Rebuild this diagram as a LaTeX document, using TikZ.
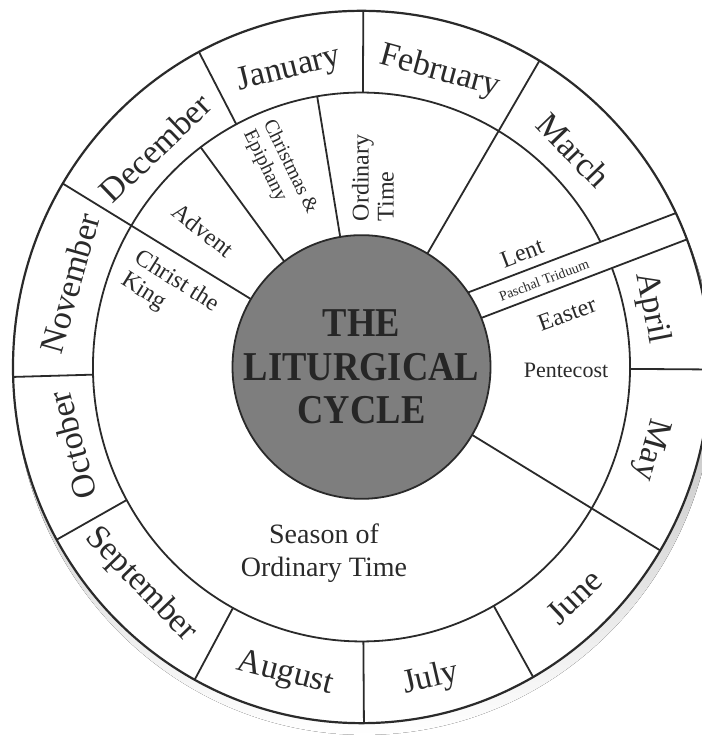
\documentclass[tikz,border=0pt]{standalone}
\usepackage{fontspec}
\setmainfont{Liberation Serif}
\newfontfamily\titlefont{Liberation Serif}[FakeStretch=0.89]
\definecolor{ink}{HTML}{2A2A2A}
\definecolor{hub}{HTML}{7E7E7E}
\definecolor{shade}{HTML}{707070}
\begin{document}
\begin{tikzpicture}[x=1pt,y=1pt,
  wheel/.style={draw=ink, line width=1.8pt},
  month/.style={text=ink, font=\fontsize{34}{38}\selectfont, inner sep=0pt},
  season/.style={text=ink, font=\fontsize{24}{26}\selectfont, inner sep=0pt},
]
\useasboundingbox (0,0) rectangle (701,738);
\fill[white] (0,0) rectangle (701,738);
\begin{scope}[shift={(361.5,371)}, yscale=1.022]
  % shadow and rings
  \fill[shade] (3,-10) circle (350);
  \draw[wheel, fill=white, line width=2.2pt] (0,0) circle (348.5);
  \draw[wheel] (27.13:268.5) arc[start angle=27.13, end angle=381.14, radius=268.5];
  % month dividers (outer ring only)
  \foreach \a in {89.7,117.8,181.6,209,241.4,270.4,299.5,359.6}
    \draw[wheel] (\a:268.5) -- (\a:348.5);
  % season dividers (inner ring only)
  \foreach \a in {126.8,99.5}
    \draw[wheel] (\a:129) -- (\a:268.5);
  % dividers through both rings
  \foreach \a in {149,59.3,329}
    \draw[wheel] (\a:129) -- (\a:348.5);
  % Paschal Triduum band
  \draw[wheel] (34.4:129) -- (25.6:348.5);
  \draw[wheel] (21.83:129) -- (20.99:348.5);
  % hub
  \draw[wheel, fill=hub] (0,0) circle (129);
  % months
  \foreach \n/\a/\r/\rot in {January/104/299.5/14, February/74.8/299/-15.2,
      March/45/300/-46, April/11.2/296/-79, May/344.3/299.7/-105.7,
      June/313.4/309.5/43.4, July/282.8/313/13, August/255.7/310/-14.3,
      September/224/307/-46, October/194.8/299.4/104.8,
      November/164.3/303/74.3, December/133.9/297.6/43.9}
    \node[month, rotate=\rot] (m-\n) at (\a:\r) {\n};
\end{scope}
% title
\node[text=ink!90!black, font=\titlefont\bfseries\fontsize{41}{43.5}\selectfont,
  align=center, inner sep=0pt] (title) at (361.5,371) {THE\\LITURGICAL\\CYCLE};
% seasons
\node[season, rotate=-32, align=left] (ctk) at (170,445) {Christ the\\King};
\node[season, rotate=-38] (advent) at (203,508) {Advent};
\node[season, font=\fontsize{20}{22}\selectfont, rotate=-64, align=left] (xmas) at (280,566) {Christmas \&\\Epiphany};
\node[season, rotate=90, align=left, font=\fontsize{24}{25}\selectfont] (ordtop) at (373,560) {Ordinary\\Time};
\node[season, rotate=21] (lent) at (522,485) {Lent};
\node[season, font=\fontsize{14}{16}\selectfont, rotate=20.5] (paschal) at (544,458) {Paschal Triduum};
\node[season, rotate=20] (easter) at (567,424) {Easter};
\node[season, font=\fontsize{22}{24}\selectfont] (pentecost) at (566,368) {Pentecost};
\node[season, font=\fontsize{28}{33}\selectfont, align=center] (sot) at (324,185) {Season of\\Ordinary Time};
\end{tikzpicture}
\end{document}
